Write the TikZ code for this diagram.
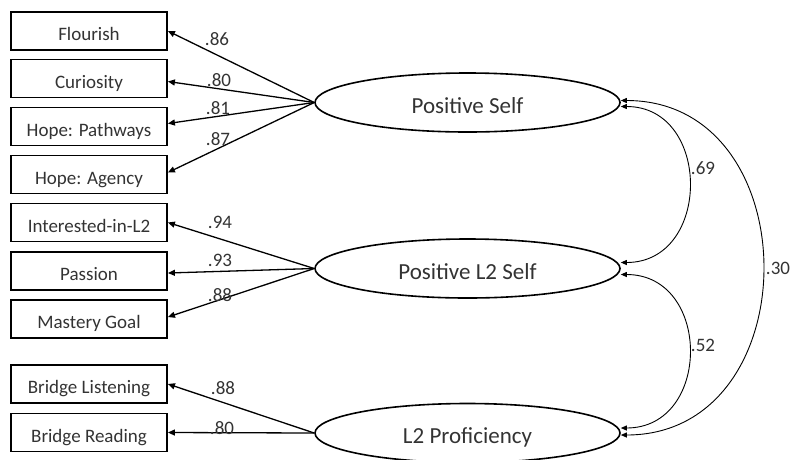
\documentclass[tikz,border=0pt]{standalone}
\usepackage{fontspec}
\setmainfont{Carlito}
\usetikzlibrary{arrows.meta,shapes.geometric}
\begin{document}
\begin{tikzpicture}[x=1pt,y=-1pt,
  indicator/.style={draw,line width=1.8pt,minimum width=156pt,minimum height=38pt,
    inner sep=0pt,text height=19pt,text depth=0pt,
    font=\fontsize{19}{20}\selectfont,text=black!80},
  latent/.style={draw,ellipse,line width=1.6pt,minimum width=305pt,minimum height=59pt,
    inner sep=0pt,text height=21pt,text depth=0pt,
    font=\fontsize{23}{24}\selectfont,text=black!80},
  load/.style={line width=1.3pt,-{Triangle[length=7pt,width=6pt]}},
  cov/.style={line width=0.9pt,{Triangle[length=6pt,width=5pt]}-{Triangle[length=6pt,width=5pt]}},
  coef/.style={font=\fontsize{19}{20}\selectfont,text=black!80,inner sep=0pt}]
\useasboundingbox (0,0) rectangle (794,459);

% observed indicators
\node[indicator] (flo) at (89,31)    {Flourish};
\node[indicator] (cur) at (89,78.5)  {Curiosity};
\node[indicator] (pat) at (89,126.5) {Hope: Pathways};
\node[indicator] (age) at (89,174.5) {Hope: Agency};
\node[indicator] (int) at (89,222.5) {Interested-in-L2};
\node[indicator] (pas) at (89,271)   {Passion};
\node[indicator] (mas) at (89,319)   {Mastery Goal};
\node[indicator] (bli) at (89,384)   {Bridge Listening};
\node[indicator] (bre) at (89,432.5) {Bridge Reading};

% latent factors
\node[latent] (ps)  at (467.5,102.5) {Positive Self};
\node[latent] (pl2) at (467.5,268.5) {Positive L2 Self};
\node[latent] (l2p) at (467.5,433)   {L2 Proficiency};

% factor loadings
\draw[load] (ps.west)  -- (flo.east);
\draw[load] (ps.west)  -- ([yshift=-3pt]cur.east);
\draw[load] (ps.west)  -- ([yshift=3pt]pat.east);
\draw[load] (ps.west)  -- ([yshift=2pt]age.east);
\draw[load] (pl2.west) -- (int.east);
\draw[load] (pl2.west) -- ([yshift=-2pt]pas.east);
\draw[load] (pl2.west) -- ([yshift=2pt]mas.east);
\draw[load] (l2p.west) -- (bli.east);
\draw[load] (l2p.west) -- (bre.east);

\node[coef] (c1) at (217,39)  {.86};
\node[coef] (c2) at (219,80)  {.80};
\node[coef] (c3) at (218,108) {.81};
\node[coef] (c4) at (218,139) {.87};
\node[coef] (c5) at (220,222) {.94};
\node[coef] (c6) at (220,260) {.93};
\node[coef] (c7) at (220,295) {.88};
\node[coef] (c8) at (223,388) {.88};
\node[coef] (c9) at (222,428) {.80};

% factor correlations
\draw[cov] ([yshift=-4pt]ps.east) .. controls +(91,0) and +(91,0) .. ([yshift=6pt]pl2.east);
\draw[cov] ([yshift=-6pt]pl2.east) .. controls +(91,0) and +(91,0) .. ([yshift=5pt]l2p.east);
\draw[cov] ([yshift=2pt]ps.east) .. controls +(189,0) and +(189,0) .. ([yshift=-2pt]l2p.east);

\node[coef] (r1) at (703,168) {.69};
\node[coef] (r2) at (703,345) {.52};
\node[coef] (r3) at (778,268) {.30};
\end{tikzpicture}
\end{document}
